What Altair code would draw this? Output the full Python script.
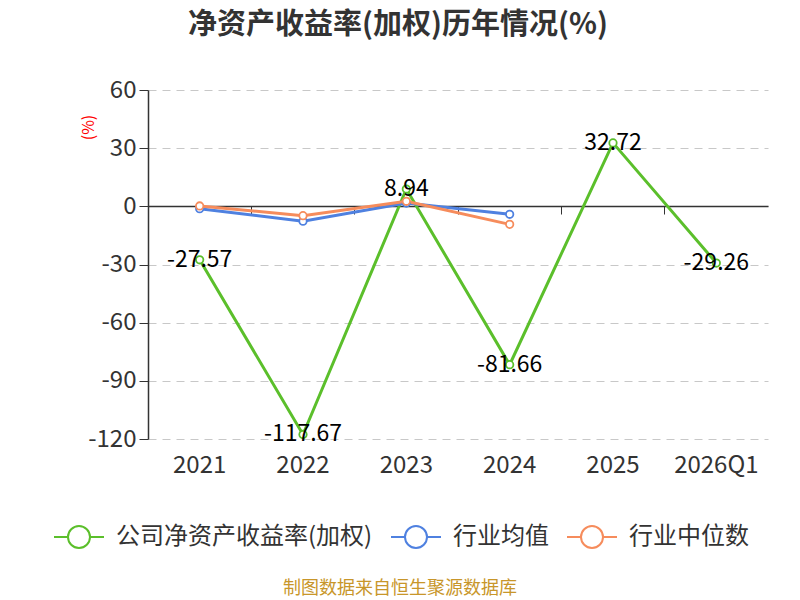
import altair as alt
import pandas as pd

FONT = "Noto Sans CJK SC"

years = ["2021", "2022", "2023", "2024", "2025", "2026Q1"]
roe_company = [-27.57, -117.67, 8.94, -81.66, 32.72, -29.26]
roe_mean = [-1.2, -7.7, 1.7, -4.1]
roe_median = [0.2, -4.8, 2.6, -9.3]

series_names = ["公司净资产收益率(加权)", "行业均值", "行业中位数"]
series_colors = ["#5bbf2b", "#4f81e0", "#f68c5c"]

rows = []
for name, vals in zip(series_names, [roe_company, roe_mean, roe_median]):
    for yr, v in zip(years, vals):
        rows.append({"year": yr, "value": v, "series": name, "label": f"{v:.2f}"})
df = pd.DataFrame(rows)
df_company = df[df["series"] == series_names[0]]

# legend symbol: short line with hollow circle in the middle
sym = ("M-1,0L-0.44,0M0.44,0L1,0M0.44,0A0.44,0.44,0,1,1,-0.44,0"
       "A0.44,0.44,0,1,1,0.44,0")

x_scale = alt.Scale(type="band", domain=years, paddingInner=0, paddingOuter=0)
y_scale = alt.Scale(domain=[-120, 60], nice=False)

# x axis sits on the zero line; labels pushed down to the bottom
x_enc = alt.X(
    "year:N", scale=x_scale, title=None,
    axis=alt.Axis(orient="bottom", offset=-233, bandPosition=0, tickExtra=True,
                  domainColor="#333", domainWidth=1.5, tickColor="#333",
                  tickSize=8, labelAngle=0, labelPadding=239,
                  labelFontSize=24, labelColor="#333", labelFont=FONT,
                  grid=False),
)
y_enc = alt.Y(
    "value:Q", scale=y_scale,
    axis=alt.Axis(values=[-120, -90, -60, -30, 0, 30, 60], title="(%)",
                  labelExpr="toString(datum.value)",
                  titleColor="red", titleFontSize=16, titleFont=FONT,
                  titleFontWeight="normal", titleX=-52, titleY=37,
                  labelFontSize=24, labelColor="#333", labelFont=FONT,
                  domainColor="#333", domainWidth=1.5, tickColor="#333",
                  tickSize=9, labelPadding=3,
                  grid=True, gridDash=[8, 6], gridColor="#c8c8c8"),
)

color = alt.Color(
    "series:N",
    scale=alt.Scale(domain=series_names, range=series_colors),
    legend=alt.Legend(
        title=None, orient="none", direction="horizontal",
        legendX=-95, legendY=421,
        symbolType=sym, symbolSize=2500, symbolStrokeWidth=2,
        symbolFillColor="white", labelFontSize=24, labelColor="#333",
        labelFont=FONT, labelOffset=11, columnPadding=14, labelLimit=400,
    ),
)

lines = alt.Chart(df).mark_line(strokeWidth=3).encode(
    x=x_enc, y=y_enc, color=color,
)

points = alt.Chart(df).mark_point(
    filled=True, fill="white", size=55, strokeWidth=1.8, opacity=1
).encode(
    x=alt.X("year:N", scale=x_scale),
    y=alt.Y("value:Q", scale=y_scale),
    stroke=alt.Stroke("series:N", scale=alt.Scale(domain=series_names,
                                                  range=series_colors),
                      legend=None),
)

labels = alt.Chart(df_company).mark_text(
    fontSize=23, font=FONT, color="black", baseline="middle", align="center"
).encode(
    x=alt.X("year:N", scale=x_scale),
    y=alt.Y("value:Q", scale=y_scale),
    text="label:N",
)

footer = alt.Chart(df_company.head(1)).mark_text(
    fontSize=18, font=FONT, color="#c8962a", align="center", baseline="middle"
).encode(
    x=alt.value(252), y=alt.value(499),
    text=alt.value("制图数据来自恒生聚源数据库"),
)

chart = (
    alt.layer(lines, points, labels, footer)
    .properties(
        width=620, height=349,
        autosize=alt.AutoSizeParams(type="none"),
        padding={"left": 140, "top": 82, "right": 24, "bottom": 170},
        title=alt.TitleParams(
            "净资产收益率(加权)历年情况(%)", anchor="middle", frame="group",
            dx=-60, offset=38, fontSize=29, font=FONT, fontWeight="bold",
            color="#333",
        ),
    )
    .configure(background="white")
    .configure_view(stroke=None)
)

chart.save("out.html", embed_options={"renderer": "svg", "actions": False})
